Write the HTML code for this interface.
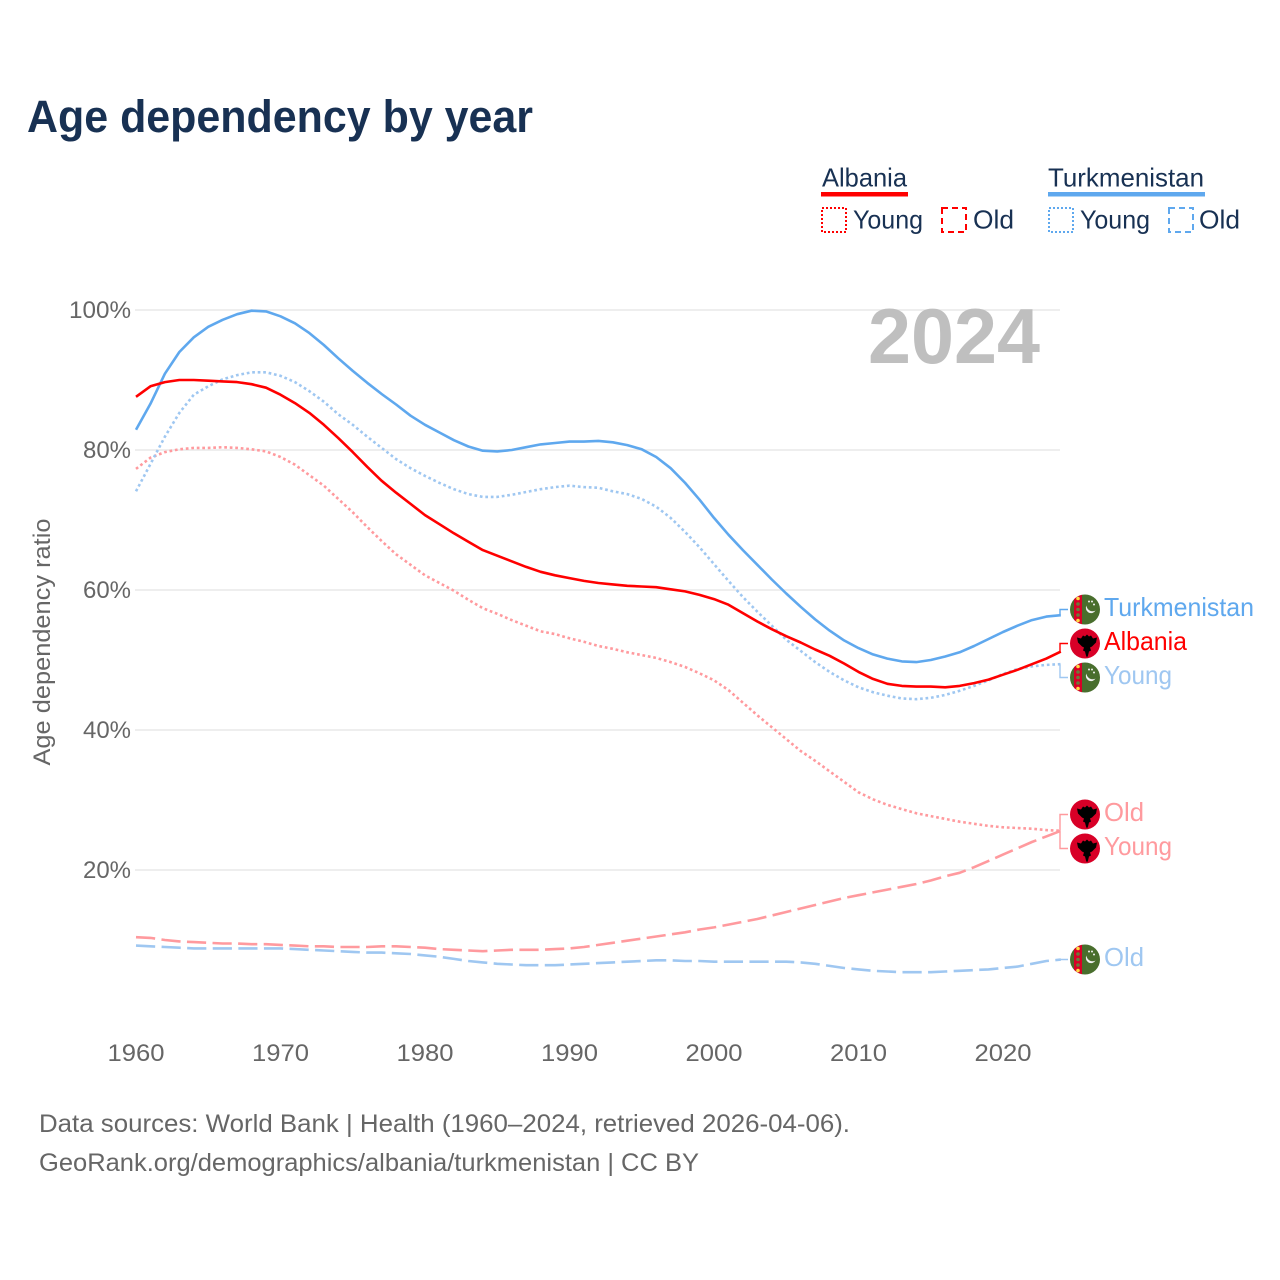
<!DOCTYPE html>
<html>
<head>
<meta charset="utf-8">
<title>Age dependency by year</title>
<style>
html,body{margin:0;padding:0;background:#fff;}
svg{display:block;}
text{font-family:"Liberation Sans",sans-serif;}
</style>
</head>
<body>
<svg id="chart" xmlns="http://www.w3.org/2000/svg" width="1280" height="1280" viewBox="0 0 1280 1280">
  <rect width="1280" height="1280" fill="#fff"/>
  <text x="27" y="132" font-size="45" font-weight="700" fill="#183153" textLength="506" lengthAdjust="spacingAndGlyphs">Age dependency by year</text>

  <g font-size="26" fill="#183153">
    <g>
      <text x="822" y="186.5" textLength="85" lengthAdjust="spacingAndGlyphs">Albania</text>
      <rect x="821" y="192" width="87" height="4.5" fill="#ff0000"/>
      <rect x="822" y="208" width="24" height="24" fill="none" stroke="#ff0000" stroke-width="2" stroke-dasharray="2 2"/>
      <text x="853" y="228.5" textLength="70" lengthAdjust="spacingAndGlyphs">Young</text>
      <rect x="942" y="208" width="24" height="24" fill="none" stroke="#ff0000" stroke-width="2" stroke-dasharray="6 4"/>
      <text x="973" y="228.5" textLength="41" lengthAdjust="spacingAndGlyphs">Old</text>
    </g>
    <g>
      <text x="1048" y="186.5" textLength="156" lengthAdjust="spacingAndGlyphs">Turkmenistan</text>
      <rect x="1048" y="192" width="157" height="4.5" fill="#5fa8ee"/>
      <rect x="1049" y="208" width="24" height="24" fill="none" stroke="#5fa8ee" stroke-width="2" stroke-dasharray="2 2"/>
      <text x="1080" y="228.5" textLength="70" lengthAdjust="spacingAndGlyphs">Young</text>
      <rect x="1169" y="208" width="24" height="24" fill="none" stroke="#5fa8ee" stroke-width="2" stroke-dasharray="6 4"/>
      <text x="1199" y="228.5" textLength="41" lengthAdjust="spacingAndGlyphs">Old</text>
    </g>
  </g>

  <g id="grid"></g>
  <g id="yticks" font-size="24" fill="#666"></g>
  <g id="xticks" font-size="24" fill="#666"></g>
  <text transform="translate(50,642) rotate(-90)" text-anchor="middle" font-size="24" fill="#666" textLength="247" lengthAdjust="spacingAndGlyphs">Age dependency ratio</text>
  <text x="1040" y="363" text-anchor="end" font-size="78" font-weight="700" fill="#bfbfbf" textLength="172" lengthAdjust="spacingAndGlyphs">2024</text>

  <g id="series"></g>
  <g id="labels"></g>

  <g font-size="25" fill="#666">
    <text x="39" y="1132" textLength="811" lengthAdjust="spacingAndGlyphs">Data sources: World Bank | Health (1960–2024, retrieved 2026-04-06).</text>
    <text x="39" y="1171" textLength="660" lengthAdjust="spacingAndGlyphs">GeoRank.org/demographics/albania/turkmenistan | CC BY</text>
  </g>
</svg>
<script>
var startYear = 1960;
var xTickYears = [1960, 1970, 1980, 1990, 2000, 2010, 2020];
var xTickLabels = ["1960", "1970", "1980", "1990", "2000", "2010", "2020"];
var yTickValues = [20, 40, 60, 80, 100];
var yTickLabels = ["20%", "40%", "60%", "80%", "100%"];

var turkmenistanTotal = [82.9,86.6,90.9,94.0,96.1,97.6,98.6,99.4,99.9,99.8,99.1,98.1,96.7,95.0,93.1,91.3,89.6,88.0,86.5,84.9,83.6,82.5,81.4,80.5,79.9,79.8,80.0,80.4,80.8,81.0,81.2,81.2,81.3,81.1,80.7,80.1,79.0,77.4,75.3,72.9,70.3,67.9,65.7,63.6,61.5,59.5,57.6,55.8,54.2,52.8,51.7,50.8,50.2,49.8,49.7,50.0,50.5,51.1,52.0,53.0,54.0,54.9,55.7,56.2,56.4];
var albaniaTotal = [87.6,89.1,89.7,90.0,90.0,89.9,89.8,89.7,89.4,88.9,87.9,86.7,85.3,83.6,81.7,79.7,77.6,75.6,73.9,72.3,70.7,69.4,68.1,66.9,65.7,64.9,64.1,63.3,62.6,62.1,61.7,61.3,61.0,60.8,60.6,60.5,60.4,60.1,59.8,59.3,58.7,57.9,56.7,55.5,54.4,53.4,52.5,51.5,50.6,49.5,48.3,47.3,46.6,46.3,46.2,46.2,46.1,46.3,46.7,47.2,47.9,48.6,49.4,50.2,51.2];
var albaniaYoung = [77.3,78.9,79.7,80.1,80.3,80.3,80.4,80.3,80.1,79.8,79.0,77.9,76.4,74.9,73.0,71.1,69.0,67.0,65.1,63.6,62.1,61.0,59.9,58.6,57.4,56.6,55.7,54.9,54.1,53.7,53.1,52.6,52.0,51.6,51.1,50.7,50.3,49.7,49.0,48.1,47.1,45.7,43.9,42.1,40.4,38.7,37.0,35.6,34.1,32.6,31.1,30.1,29.3,28.7,28.1,27.7,27.3,26.9,26.6,26.3,26.1,26.0,25.9,25.7,25.6];
var albaniaOld = [10.4,10.3,10.0,9.8,9.7,9.6,9.5,9.5,9.4,9.4,9.3,9.2,9.1,9.1,9.0,9.0,9.0,9.1,9.1,9.0,8.9,8.7,8.6,8.5,8.4,8.5,8.6,8.6,8.6,8.7,8.8,9.0,9.3,9.6,9.9,10.2,10.5,10.8,11.1,11.5,11.8,12.2,12.6,13.0,13.5,14.0,14.5,15.0,15.5,16.0,16.4,16.8,17.2,17.6,18.0,18.5,19.1,19.6,20.4,21.3,22.2,23.1,24.0,24.8,25.6];
var turkmenistanYoung = [74.1,78.0,81.9,85.3,87.9,89.1,90.1,90.7,91.1,91.1,90.6,89.7,88.4,86.9,85.1,83.6,81.9,80.3,78.7,77.4,76.3,75.3,74.4,73.7,73.3,73.3,73.6,74.0,74.4,74.7,74.9,74.7,74.6,74.1,73.7,73.0,71.9,70.3,68.3,66.1,63.7,61.3,59.0,56.9,54.9,52.9,51.3,49.7,48.3,47.1,46.1,45.4,44.9,44.5,44.4,44.6,45.0,45.6,46.3,47.1,48.0,48.7,49.1,49.3,49.4];
var turkmenistanOld = [9.2,9.1,9.0,8.9,8.8,8.8,8.8,8.8,8.8,8.8,8.8,8.7,8.6,8.5,8.4,8.3,8.2,8.2,8.1,8.0,7.8,7.6,7.3,7.0,6.8,6.6,6.5,6.4,6.4,6.4,6.5,6.6,6.7,6.8,6.9,7.0,7.1,7.1,7.0,7.0,6.9,6.9,6.9,6.9,6.9,6.9,6.8,6.6,6.3,6.0,5.8,5.6,5.5,5.4,5.4,5.4,5.5,5.6,5.7,5.8,6.0,6.2,6.6,7.0,7.2];

var SVG_NS = "http://www.w3.org/2000/svg";
var plot = { left: 136, right: 1060.8, zeroY: 1010, pxPerPct: 7 };
function xScale(year) { return plot.left + (year - startYear) * (plot.right - plot.left) / 64; }
function yScale(v) { return plot.zeroY - v * plot.pxPerPct; }
function make(tag, parent, attrs) {
  var el = document.createElementNS(SVG_NS, tag);
  for (var k in attrs) { el.setAttribute(k, attrs[k]); }
  parent.appendChild(el);
  return el;
}
var gridG = document.getElementById("grid");
var yG = document.getElementById("yticks");
var xG = document.getElementById("xticks");
var seriesG = document.getElementById("series");
var labelsG = document.getElementById("labels");

yTickValues.forEach(function (v, i) {
  var line = make("line", gridG, { x1: 135, x2: 1060, y1: yScale(v), y2: yScale(v), stroke: "#e8e8e8", "stroke-width": 1.6 });
  
  
  var t = make("text", yG, { x: 131, y: yScale(v) + 8, "text-anchor": "end", textLength: yTickLabels[i].length === 4 ? 62 : 48, lengthAdjust: "spacingAndGlyphs" });
  t.textContent = yTickLabels[i];
  
  
});
xTickYears.forEach(function (yr, i) {
  var t = make("text", xG, { x: xScale(yr), y: 1061, "text-anchor": "middle", textLength: 57, lengthAdjust: "spacingAndGlyphs" });
  t.textContent = xTickLabels[i];
  
  
});

function linePath(values) {
  return values.map(function (v, i) {
    return (i ? "L" : "M") + xScale(startYear + i).toFixed(2) + " " + yScale(v).toFixed(2);
  }).join("");
}
function drawSeries(values, color, dash, name) {
  var p = make("path", seriesG, { d: linePath(values), fill: "none", stroke: color, "stroke-width": 2.6, "stroke-linejoin": "round" });
  if (dash) { p.setAttribute("stroke-dasharray", dash); }
  
  
}
var RED = "#ff0000", BLUE = "#5fa8ee", LRED = "#ff9a9e", LBLUE = "#9fc7f1";
var DOT = "2.7 2.8", DASH = "19.2 6.4";
drawSeries(albaniaOld, LRED, DASH, "albania-old-line");
drawSeries(turkmenistanOld, LBLUE, DASH, "turkmenistan-old-line");
drawSeries(albaniaYoung, LRED, DOT, "albania-young-line");
drawSeries(turkmenistanYoung, LBLUE, DOT, "turkmenistan-young-line");
drawSeries(turkmenistanTotal, BLUE, null, "turkmenistan-total-line");
drawSeries(albaniaTotal, RED, null, "albania-total-line");

function drawFlag(parent, country, cx, cy, id) {
  var g = make("g", parent, {});
  
  
  if (country === "albania") {
    make("circle", g, { cx: cx, cy: cy, r: 15, fill: "#d80027" });
    make("path", g, {
      fill: "#000",
      d: "M" + (cx - 8) + " " + (cy - 6) + "l4 1 2 -3 2 1 2 -2 2 2 2 -1 2 3 4 -1 -1 5 -4 4 -2 1 1 3 -2 1 -1 4 -1 2 -1 -2 -1 -4 -2 -1 1 -3 -2 -1 -4 -4z"
    });
  } else {
    var clipId = "clip-" + id;
    var clip = make("clipPath", g, { id: clipId });
    make("circle", clip, { cx: cx, cy: cy, r: 15 });
    var inner = make("g", g, { "clip-path": "url(#" + clipId + ")" });
    make("rect", inner, { x: cx - 15, y: cy - 15, width: 30, height: 30, fill: "#496e2d" });
    make("rect", inner, { x: cx - 11, y: cy - 15, width: 8, height: 30, fill: "#d80027" });
    [-11, -5.5, 0, 5.5, 11].forEach(function (dy, i) {
      make("circle", inner, { cx: cx - 7, cy: cy + dy, r: 1.8, fill: (i === 0 || i === 4) ? "#ffda44" : "#6b7a3a" });
    });
    make("path", inner, { d: "M" + (cx + 1.5) + " " + (cy - 4) + "a6 6 0 0 0 9 5a5 5 0 0 1 -9 -5z", fill: "#f0f0f0" });
    make("circle", inner, { cx: cx + 4, cy: cy - 8, r: 1, fill: "#f0f0f0" });
    make("circle", inner, { cx: cx + 7, cy: cy - 8, r: 1, fill: "#f0f0f0" });
    make("circle", inner, { cx: cx + 9, cy: cy - 5, r: 1, fill: "#f0f0f0" });
  }
}

function drawEndLabel(values, country, text, color, labelY, width, idx) {
  var sy = yScale(values[values.length - 1]);
  var conn = make("path", labelsG, {
    d: "M1060 " + sy.toFixed(1) + "L1060 " + labelY + "L1068 " + labelY,
    fill: "none", stroke: color, "stroke-width": 1.4
  });
  
  
  drawFlag(labelsG, country, 1085, labelY, idx);
  var t = make("text", labelsG, { x: 1104, y: labelY + 6.5, "font-size": 26, fill: color, textLength: width, lengthAdjust: "spacingAndGlyphs" });
  t.textContent = text;
  
  
}
drawEndLabel(turkmenistanTotal, "turkmenistan", "Turkmenistan", BLUE, 609.5, 150, 1);
drawEndLabel(albaniaTotal, "albania", "Albania", RED, 643.5, 83, 2);
drawEndLabel(turkmenistanYoung, "turkmenistan", "Young", LBLUE, 677.5, 68, 3);
drawEndLabel(albaniaOld, "albania", "Old", LRED, 814.5, 40, 4);
drawEndLabel(albaniaYoung, "albania", "Young", LRED, 848.5, 68, 5);
drawEndLabel(turkmenistanOld, "turkmenistan", "Old", LBLUE, 959.5, 40, 6);
</script>
</body>
</html>
